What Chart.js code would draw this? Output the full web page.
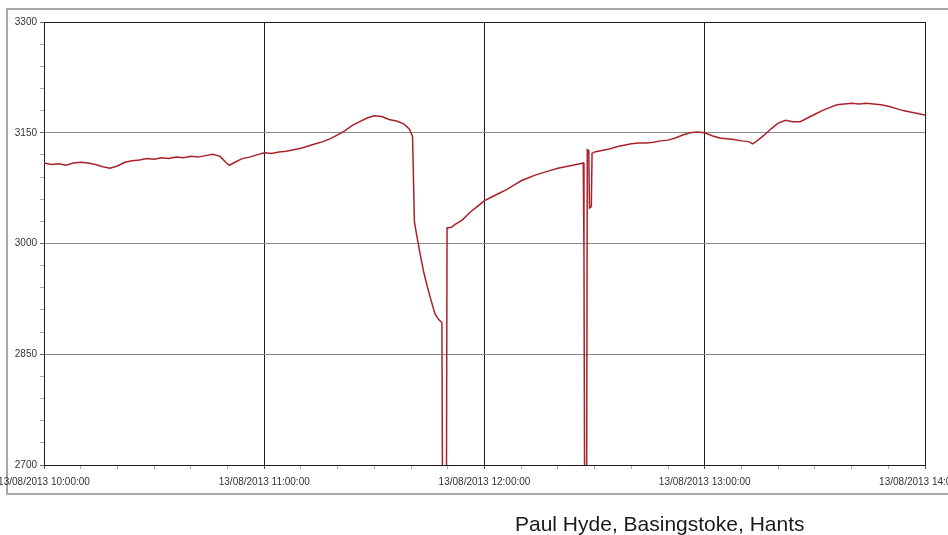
<!DOCTYPE html>
<html>
<head>
<meta charset="utf-8">
<script src="https://cdn.jsdelivr.net/npm/chart.js@4"></script>
<style>
  html, body { margin: 0; padding: 0; background: #fff; }
  #wrap { position: relative; width: 948px; height: 535px; overflow: hidden; }
  #caption { position: absolute; left: 515px; top: 513px; font-family: "Liberation Sans", Arial, sans-serif; font-size: 21px; line-height: 21px; color: #1a1a1a; white-space: nowrap; }
</style>
</head>
<body>
<div id="wrap">
  <canvas id="c" width="948" height="535"></canvas>
  <div id="caption">Paul Hyde, Basingstoke, Hants</div>
</div>
<script>
// minutes after 13/08/2013 10:00:00
const minutes = [
  0, 2, 4, 6, 8, 10, 12, 14, 16, 18, 20, 22, 24, 26, 28, 30, 32, 34, 36, 38,
  40, 42, 44, 46, 48, 49.5, 50.5, 52, 54, 56, 58, 60, 62, 64, 66, 68, 70, 72, 74, 76,
  78, 80, 82, 84, 86, 88, 90, 92, 94, 96, 98, 99.5, 100.4, 100.9, 101.5, 102.5, 103.5, 104.5, 105.5, 106.5,
  107.5, 108.4, 108.6, 109.6, 109.8, 111, 112, 114, 116, 118, 120, 122, 124, 126, 128, 130, 132, 134, 136, 138,
  140, 142, 144, 146, 146.9, 147.1, 147.3, 147.8, 148, 148.4, 148.6, 149.1, 149.3, 150, 152, 154, 156, 158, 160, 162,
  164, 166, 168, 170, 172, 174, 176, 178, 180, 182, 184, 186, 188, 190, 192, 193, 194, 196, 198, 200,
  202, 204, 206, 208, 210, 212, 214, 216, 218, 220, 222, 224, 226, 228, 230, 232, 234, 236, 238, 240
];
// logged value
const values = [
  3109, 3107, 3108, 3106, 3109, 3110, 3109, 3107, 3104, 3102, 3105, 3110, 3112, 3113, 3115, 3114, 3116, 3115, 3117, 3116,
  3118, 3117, 3119, 3121, 3118, 3110, 3106, 3110, 3115, 3117, 3120, 3123, 3122, 3124, 3125, 3127, 3129, 3132, 3135, 3138,
  3142, 3147, 3153, 3160, 3165, 3170, 3173, 3172, 3168, 3166, 3162, 3155, 3145, 3030, 3012, 2985, 2960, 2940, 2922, 2905,
  2897, 2893, 2600, 2600, 3021, 3022, 3026, 3032, 3042, 3050, 3058, 3063, 3068, 3073, 3079, 3085, 3089, 3093, 3096, 3099,
  3102, 3104, 3106, 3108, 3109, 2987, 2600, 2600, 3127, 3126, 3048, 3050, 3122, 3124, 3126, 3128, 3131, 3133, 3135, 3136,
  3136, 3137, 3139, 3140, 3143, 3147, 3150, 3151, 3150, 3146, 3143, 3142, 3141, 3139, 3138, 3135, 3138, 3146, 3155, 3163,
  3167, 3165, 3165, 3170, 3175, 3180, 3184, 3188, 3189, 3190, 3189, 3190, 3189, 3188, 3186, 3183, 3180, 3178, 3176, 3174
];
const xTickLabels = ['13/08/2013 10:00:00', '13/08/2013 11:00:00', '13/08/2013 12:00:00', '13/08/2013 13:00:00', '13/08/2013 14:00:00'];
const yTickLabels = ['2700', '2850', '3000', '3150', '3300'];

const points = minutes.map((m, i) => ({ x: m, y: values[i] }));
const FONT = { family: '"Liberation Sans", Arial, sans-serif', size: 10 };

const framePlugin = {
  id: 'frame',
  beforeDraw(chart) {
    const ctx = chart.ctx;
    ctx.save();
    ctx.fillStyle = '#fff';
    ctx.fillRect(0, 0, chart.width, chart.height);
    ctx.strokeStyle = '#a8a8a8';
    ctx.lineWidth = 2;
    ctx.strokeRect(7, 9, 960, 485);
    ctx.restore();
  }
};

new Chart(document.getElementById('c'), {
  type: 'line',
  data: {
    datasets: [{
      data: points,
      borderColor: '#a8222a',
      borderWidth: 1.5,
      pointRadius: 0,
      tension: 0,
      fill: false
    }]
  },
  options: {
    responsive: false,
    animation: false,
    parsing: false,
    layout: { padding: { left: 0, top: 22, right: 23, bottom: 40 } },
    plugins: { legend: { display: false }, tooltip: { enabled: false } },
    scales: {
      x: {
        type: 'linear',
        min: 0, max: 240,
        afterFit(s) { s.height = 30; s.paddingLeft = 0; s.paddingRight = 0; },
        ticks: {
          stepSize: 10, autoSkip: false, maxRotation: 0, minRotation: 0,
          padding: 7, color: '#333', font: FONT,
          callback: v => (v % 60 === 0 ? xTickLabels[v / 60] : '')
        },
        grid: {
          color: c => (c.tick && c.tick.value % 60 === 0 ? '#1e1e1e' : 'rgba(0,0,0,0)'),
          tickColor: c => (c.tick && c.tick.value % 60 === 0 ? '#555' : '#aaa'),
          tickLength: 4, lineWidth: 1
        },
        border: { color: '#1e1e1e', width: 1 }
      },
      y: {
        type: 'linear',
        min: 2700, max: 3300,
        afterFit(s) { s.width = 44; s.paddingTop = 0; s.paddingBottom = 0; },
        ticks: {
          stepSize: 30, autoSkip: false, padding: 3, color: '#333', font: FONT,
          callback: v => (v % 150 === 0 ? yTickLabels[(v - 2700) / 150] : '')
        },
        grid: {
          color: c => {
            if (!c.tick) return 'rgba(0,0,0,0)';
            if (c.tick.value === 3300) return '#1e1e1e';
            return c.tick.value % 150 === 0 ? '#8a8a8a' : 'rgba(0,0,0,0)';
          },
          tickColor: c => (c.tick && c.tick.value % 150 === 0 ? '#666' : '#aaa'),
          tickLength: 4, lineWidth: 1
        },
        border: { color: '#1e1e1e', width: 1 }
      }
    }
  },
  plugins: [framePlugin]
});
</script>
</body>
</html>
